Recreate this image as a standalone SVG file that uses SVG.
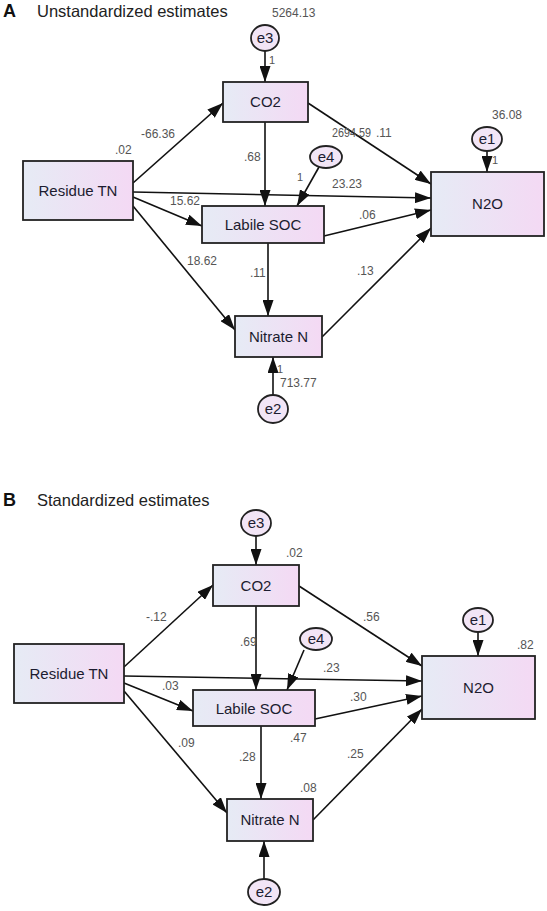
<svg xmlns="http://www.w3.org/2000/svg" width="547" height="911" viewBox="0 0 547 911">
<defs>
<linearGradient id="boxg" x1="0" y1="0" x2="1" y2="0">
<stop offset="0" stop-color="#e6ebf5"/>
<stop offset="1" stop-color="#f4d9f4"/>
</linearGradient>
<marker id="ah" viewBox="0 0 16 11" refX="16" refY="5.5" markerWidth="16" markerHeight="11" markerUnits="userSpaceOnUse" orient="auto">
<path d="M0,0 L16,5.5 L0,11 Z" fill="#111"/>
</marker>
<style>
.box{fill:url(#boxg);stroke:#222;stroke-width:1.8}
.err{fill:#f2e5f6;stroke:#222;stroke-width:1.8}
.nt{font-family:"Liberation Sans",Arial,sans-serif;font-size:15px;fill:#1c1c30;text-anchor:middle}
.lb{font-family:"Liberation Sans",Arial,sans-serif;font-size:12px;fill:#555}
.sm{font-family:"Liberation Sans",Arial,sans-serif;font-size:11px;fill:#555}
.ttl{font-family:"Liberation Sans",Arial,sans-serif;font-size:16.5px;fill:#222}
.pl{font-family:"Liberation Sans",Arial,sans-serif;font-size:18px;font-weight:bold;fill:#111}
.cn line{stroke:#111;stroke-width:1.6;marker-end:url(#ah)}
</style>
</defs>
<rect width="547" height="911" fill="#fff"/>

<!-- Panel A -->
<text class="pl" x="3" y="17">A</text>
<text class="ttl" x="37" y="17">Unstandardized estimates</text>

<g id="connectors-A" class="cn">
<line x1="265" y1="51" x2="265" y2="82"/>
<line x1="133" y1="183" x2="223" y2="103"/>
<line x1="133" y1="192" x2="431" y2="198"/>
<line x1="133" y1="197" x2="202" y2="226"/>
<line x1="133" y1="206" x2="235" y2="330"/>
<line x1="265" y1="122" x2="265" y2="206"/>
<line x1="319" y1="167" x2="297" y2="206"/>
<line x1="308" y1="103" x2="431" y2="184"/>
<line x1="324" y1="236" x2="431" y2="210"/>
<line x1="268" y1="243" x2="268" y2="316"/>
<line x1="322" y1="337" x2="431" y2="228"/>
<line x1="487" y1="151" x2="487" y2="172"/>
<line x1="273" y1="395" x2="273" y2="357"/>
</g>

<g id="A-residue"><rect class="box" x="23" y="161" width="110" height="59"/><text class="nt" x="78" y="196">Residue TN</text></g>
<g id="A-co2"><rect class="box" x="223" y="82" width="85" height="40"/><text class="nt" x="265.5" y="107">CO2</text></g>
<g id="A-labile"><rect class="box" x="202" y="206" width="122" height="37"/><text class="nt" x="263" y="230">Labile SOC</text></g>
<g id="A-nitrate"><rect class="box" x="235" y="316" width="87" height="41"/><text class="nt" x="278.5" y="342">Nitrate N</text></g>
<g id="A-n2o"><rect class="box" x="431" y="172" width="113" height="64"/><text class="nt" x="487.5" y="209">N2O</text></g>
<g id="A-e3"><ellipse class="err" cx="265" cy="38" rx="14" ry="13"/><text class="nt" x="265" y="43">e3</text></g>
<g id="A-e4"><ellipse class="err" cx="326" cy="157" rx="16" ry="11"/><text class="nt" x="326" y="162">e4</text></g>
<g id="A-e1"><ellipse class="err" cx="487" cy="139" rx="15" ry="12"/><text class="nt" x="487" y="144">e1</text></g>
<g id="A-e2"><ellipse class="err" cx="273" cy="409" rx="15" ry="14"/><text class="nt" x="273" y="414">e2</text></g>

<g id="A-labels">
<text class="lb" x="272" y="17">5264.13</text>
<text class="sm" x="269" y="64">1</text>
<text class="lb" x="115" y="154">.02</text>
<text class="lb" x="141" y="138">-66.36</text>
<text class="lb" x="244" y="161">.68</text>
<text class="lb" x="492" y="119">36.08</text>
<text class="sm" x="492" y="164">1</text>
<text class="lb" x="332" y="137" textLength="39" lengthAdjust="spacingAndGlyphs">2694.59</text>
<text class="lb" x="376" y="137">.11</text>
<text class="sm" x="297" y="181">1</text>
<text class="lb" x="332" y="188">23.23</text>
<text class="lb" x="170" y="205">15.62</text>
<text class="lb" x="359" y="219">.06</text>
<text class="lb" x="187" y="265">18.62</text>
<text class="lb" x="250" y="277">.11</text>
<text class="lb" x="357" y="275">.13</text>
<text class="sm" x="277" y="373">1</text>
<text class="lb" x="280" y="387">713.77</text>
</g>

<!-- Panel B -->
<text class="pl" x="3" y="506">B</text>
<text class="ttl" x="37" y="506">Standardized estimates</text>

<g id="connectors-B" class="cn">
<line x1="256" y1="536" x2="256" y2="565"/>
<line x1="124" y1="667" x2="213" y2="585"/>
<line x1="124" y1="676" x2="422" y2="681"/>
<line x1="124" y1="683" x2="193" y2="711"/>
<line x1="124" y1="691" x2="227" y2="813"/>
<line x1="256" y1="606" x2="256" y2="690"/>
<line x1="304" y1="650" x2="287" y2="690"/>
<line x1="299" y1="586" x2="422" y2="666"/>
<line x1="315" y1="719" x2="422" y2="696"/>
<line x1="261" y1="726" x2="261" y2="799"/>
<line x1="313" y1="820" x2="422" y2="709"/>
<line x1="478" y1="632" x2="478" y2="656"/>
<line x1="264" y1="880" x2="264" y2="841"/>
</g>

<g id="B-residue"><rect class="box" x="14" y="644" width="110" height="59"/><text class="nt" x="69" y="679">Residue TN</text></g>
<g id="B-co2"><rect class="box" x="213" y="565" width="86" height="41"/><text class="nt" x="256" y="591">CO2</text></g>
<g id="B-labile"><rect class="box" x="193" y="690" width="122" height="36"/><text class="nt" x="254" y="714">Labile SOC</text></g>
<g id="B-nitrate"><rect class="box" x="227" y="799" width="86" height="42"/><text class="nt" x="270" y="825">Nitrate N</text></g>
<g id="B-n2o"><rect class="box" x="422" y="656" width="113" height="63"/><text class="nt" x="478.5" y="693">N2O</text></g>
<g id="B-e3"><ellipse class="err" cx="256" cy="523" rx="15" ry="13"/><text class="nt" x="256" y="528">e3</text></g>
<g id="B-e4"><ellipse class="err" cx="316" cy="639" rx="16" ry="11"/><text class="nt" x="316" y="644">e4</text></g>
<g id="B-e1"><ellipse class="err" cx="478" cy="620" rx="15" ry="12"/><text class="nt" x="478" y="625">e1</text></g>
<g id="B-e2"><ellipse class="err" cx="264" cy="892" rx="16" ry="13"/><text class="nt" x="264" y="897">e2</text></g>

<g id="B-labels">
<text class="lb" x="286" y="557">.02</text>
<text class="lb" x="146" y="621">-.12</text>
<text class="lb" x="240" y="646">.69</text>
<text class="lb" x="363" y="621">.56</text>
<text class="lb" x="517" y="649">.82</text>
<text class="lb" x="323" y="672">.23</text>
<text class="lb" x="162" y="690">.03</text>
<text class="lb" x="350" y="701">.30</text>
<text class="lb" x="290" y="742">.47</text>
<text class="lb" x="178" y="747">.09</text>
<text class="lb" x="239" y="761">.28</text>
<text class="lb" x="347" y="758">.25</text>
<text class="lb" x="300" y="792">.08</text>
</g>
</svg>
